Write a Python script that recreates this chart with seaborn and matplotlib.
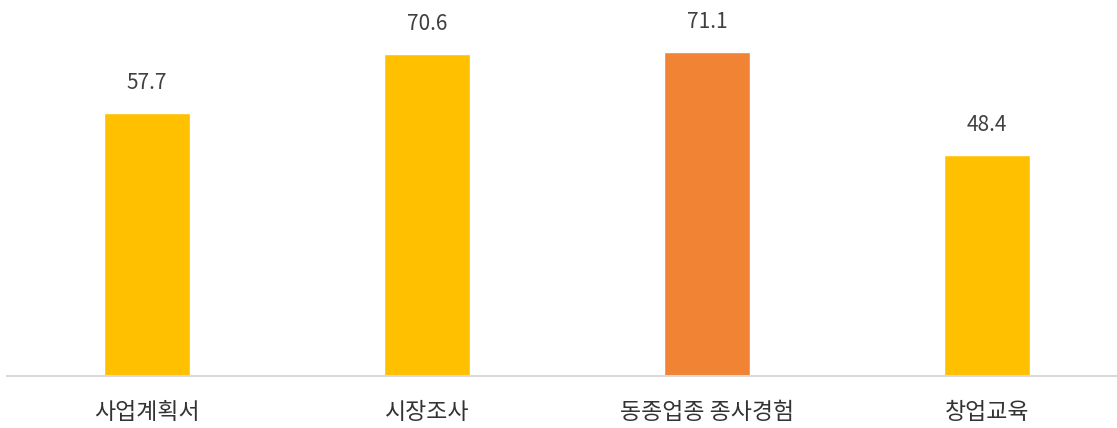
import matplotlib
matplotlib.use('Agg')
import matplotlib.pyplot as plt
import seaborn as sns
import pandas as pd

categories = ['사업계획서', '시장조사', '동종업종 종사경험', '창업교육']
values = [57.7, 70.6, 71.1, 48.4]
bar_colors = ['#FFC000', '#FFC000', '#F08434', '#FFC000']

sns.set_style('white')
plt.rcParams['font.family'] = ['Noto Sans CJK KR', 'DejaVu Sans']

df = pd.DataFrame({'cat': categories, 'val': values})

fig = plt.figure(figsize=(11.17, 4.28), dpi=100)
ax = fig.add_axes([7 / 1117, 0.1215, 1120 / 1117, 0.853])
sns.barplot(data=df, x='cat', y='val', hue='cat', palette=bar_colors,
            legend=False, width=0.305, saturation=1, ax=ax)

for i, v in enumerate(values):
    ax.annotate(f'{v}', (i, v), xytext=(0, 13.5), textcoords='offset points',
                ha='center', va='bottom', fontsize=15, color='#404040')

ax.set_ylim(0, 80)
ax.set_xlim(-0.5, 3.5)
ax.set_xlabel('')
ax.set_ylabel('')
ax.set_yticks([])
ax.tick_params(axis='x', length=0, pad=18, labelsize=16.5, labelcolor='#333333')
for s in ['top', 'right', 'left']:
    ax.spines[s].set_visible(False)
ax.spines['bottom'].set_color('#D9D9D9')
ax.spines['bottom'].set_linewidth(1.5)

plt.savefig('out.png', dpi=100)
